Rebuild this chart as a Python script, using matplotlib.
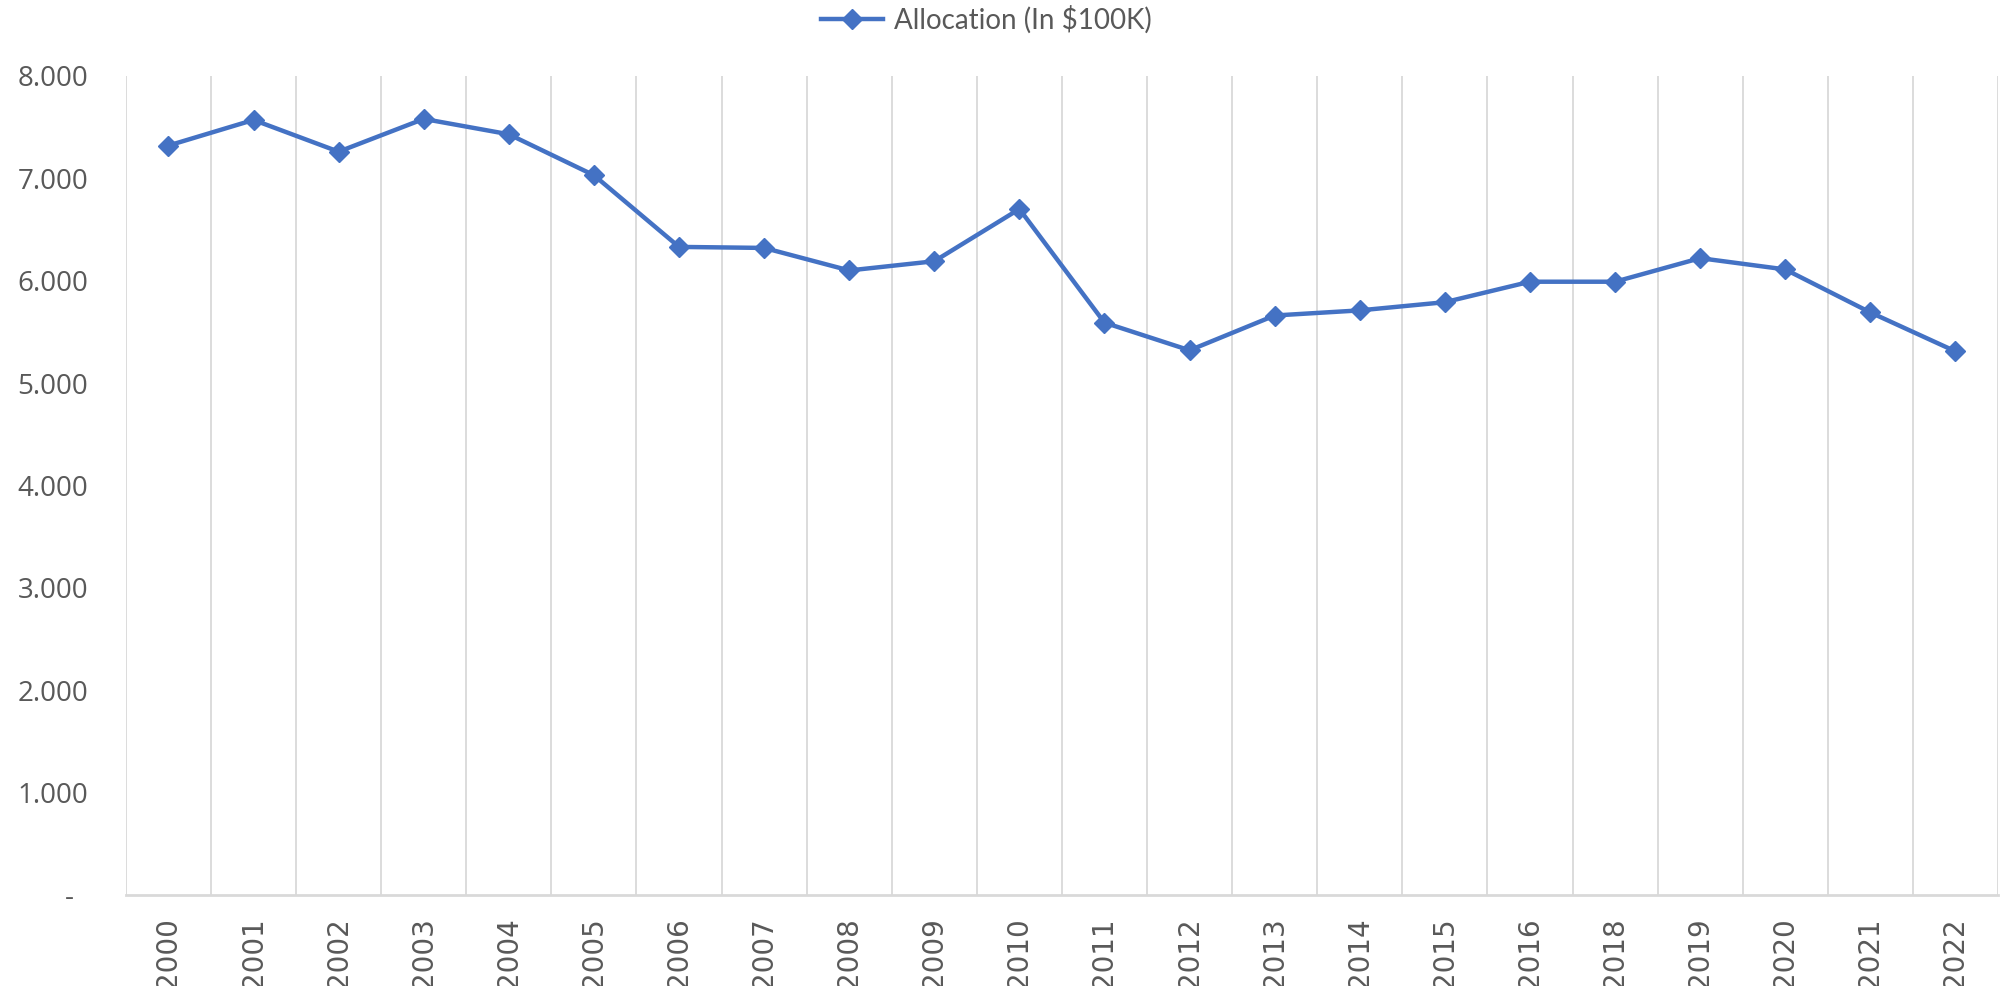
import numpy as np
import matplotlib
matplotlib.use("Agg")
import matplotlib.pyplot as plt
from matplotlib.ticker import FixedLocator

years = ["2000", "2001", "2002", "2003", "2004", "2005", "2006", "2007", "2008", "2009",
         "2010", "2011", "2012", "2013", "2014", "2015", "2016", "2018", "2019", "2020",
         "2021", "2022"]
allocation = [7.32, 7.57, 7.26, 7.58, 7.43, 7.03, 6.33, 6.32, 6.10, 6.19,
              6.70, 5.59, 5.32, 5.66, 5.71, 5.79, 5.99, 5.99, 6.22, 6.11,
              5.69, 5.31]
y_ticks = [0, 1, 2, 3, 4, 5, 6, 7, 8]
y_labels = ["-  ", "1.000", "2.000", "3.000", "4.000", "5.000", "6.000", "7.000", "8.000"]

blue = "#4472C4"
grey_text = "#595959"
grid_col = "#D9D9D9"

fig = plt.figure(figsize=(20.05, 9.86), dpi=100)
ax = fig.add_axes([0.0628, 0.0923, 0.9337, 0.8307])

x = np.arange(len(years))
line, = ax.plot(x, allocation, color=blue, lw=3.2, marker="D", markersize=10,
                markeredgecolor=blue, markerfacecolor=blue, label="Allocation (In $100K)",
                zorder=3)

ax.set_xlim(-0.5, len(years) - 0.5)
ax.set_ylim(0, 8)

# vertical grid lines between categories
ax.xaxis.set_minor_locator(FixedLocator(np.arange(-0.5, len(years), 1.0)))
ax.grid(True, which="minor", axis="x", color=grid_col, lw=1.3)
ax.grid(False, which="major")

ax.set_xticks(x)
ax.set_xticklabels(years, rotation=90, fontsize=20, color=grey_text,
                   family="DejaVu Sans")
ax.set_yticks(y_ticks)
ax.set_yticklabels(y_labels, fontsize=20, color=grey_text, family="Open Sans")
ax.tick_params(axis="x", which="both", length=0, pad=16)
ax.tick_params(axis="y", length=0, pad=27)

for s in ["top", "right", "left"]:
    ax.spines[s].set_visible(False)
ax.spines["bottom"].set_color(grid_col)
ax.spines["bottom"].set_linewidth(2)

fig.legend(handles=[line], loc="center", bbox_to_anchor=(0.492, 0.98), frameon=False,
           prop={"family": "Lato", "size": 20}, labelcolor=grey_text,
           handlelength=2.2, handletextpad=0.4)

fig.savefig("out.png", dpi=100)
